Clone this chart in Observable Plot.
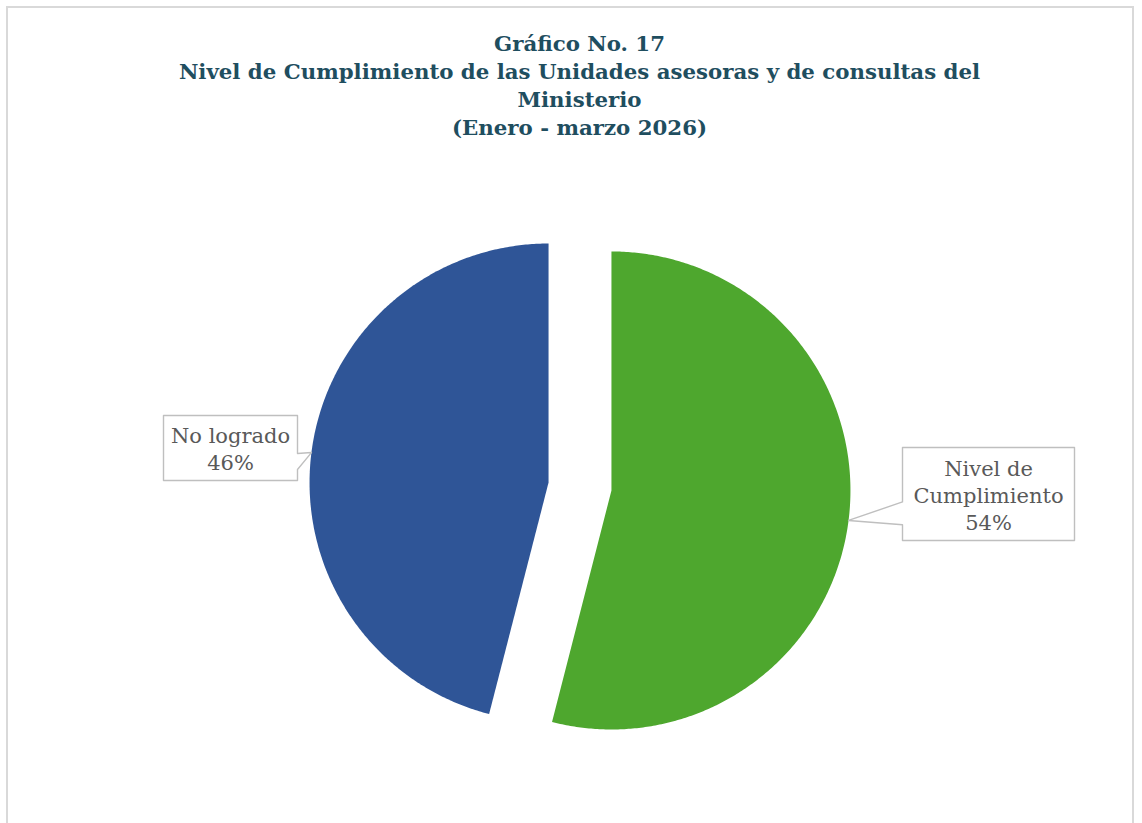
<!DOCTYPE html>
<html>
<head>
<meta charset="utf-8">
<script src="https://cdn.jsdelivr.net/npm/d3@7"></script>
<script src="https://cdn.jsdelivr.net/npm/@observablehq/plot@0.6"></script>
<style>
  html, body { margin: 0; padding: 0; background: #fff; }
  #frame { position: absolute; left: 6px; top: 6px; width: 1128px; height: 900px; border: 2px solid #d9d9d9; box-sizing: border-box; }
  #wrap { position: relative; width: 1142px; }
  #title { height: 150px; box-sizing: border-box; padding-top: 30px; padding-left: 17px; text-align: center;
           font-family: "DejaVu Serif", serif; font-weight: bold; font-size: 21.3px; line-height: 28px; color: #1F4E5F; }
  #chart svg { display: block; }
</style>
</head>
<body>
<div id="frame"></div>
<div id="wrap">
  <div id="title">Gráfico No. 17<br>Nivel de Cumplimiento de las Unidades asesoras y de consultas del<br>Ministerio<br>(Enero - marzo 2026)</div>
  <div id="chart"></div>
</div>
<script>
// ---- data ----
const categories = ["Nivel de Cumplimiento", "No logrado"];
const labelLines = ["Nivel de\nCumplimiento", "No logrado"];
const values = [54, 46];
const colors = ["#4EA72E", "#2F5597"];

// ---- layout constants ----
const W = 1142, H = 673;
const CX = 579.5, CY = 336;   // pie centre in svg pixels
const R = 239, EXPLODE = 31.7;
// callout boxes: centre offset from pie centre, size, side of the notch
const callouts = [
  {cx: 408.5, cy: 7.5, w: 172, h: 93, side: "left"},
  {cx: -349.5, cy: -38.5, w: 134, h: 65, side: "right"}
];

const arcs = d3.pie().sort(null)(values);
const slicePts = [];
const boxPts = [];
const labels = [];
arcs.forEach((a, i) => {
  const mid = (a.startAngle + a.endAngle) / 2;
  const ox = EXPLODE * Math.sin(mid), oy = -EXPLODE * Math.cos(mid);
  slicePts.push({i, x: ox, y: oy});
  const n = Math.ceil((a.endAngle - a.startAngle) / (Math.PI / 360));
  for (let k = 0; k <= n; k++) {
    const t = a.startAngle + (a.endAngle - a.startAngle) * k / n;
    slicePts.push({i, x: ox + R * Math.sin(t), y: oy - R * Math.cos(t)});
  }
  slicePts.push({i, x: ox, y: oy});

  // callout
  const c = callouts[i];
  const tip = {x: ox + R * Math.sin(mid), y: oy - R * Math.cos(mid)};
  const x0 = c.cx - c.w / 2, x1 = c.cx + c.w / 2, y0 = c.cy - c.h / 2, y1 = c.cy + c.h / 2;
  const na = y0 + 0.585 * c.h, nb = y0 + 0.83 * c.h;
  let poly;
  if (c.side === "right") {
    poly = [[x0, y0], [x1, y0], [x1, na], [tip.x, tip.y], [x1, nb], [x1, y1], [x0, y1], [x0, y0]];
  } else {
    poly = [[x0, y0], [x1, y0], [x1, y1], [x0, y1], [x0, nb], [tip.x, tip.y], [x0, na], [x0, y0]];
  }
  poly.forEach(([x, y]) => boxPts.push({i, x, y}));
  labels.push({i, x: c.cx, y: c.cy, text: labelLines[i] + "\n" + values[i] + "%"});
});

const chart = Plot.plot({
  width: W, height: H,
  margin: 0,
  x: {domain: [-CX, W - CX], range: [0, W], axis: null},
  y: {domain: [-CY, H - CY], range: [0, H], axis: null},
  style: {fontFamily: "DejaVu Serif, serif", background: "transparent"},
  marks: [
    Plot.line(slicePts, {x: "x", y: "y", z: "i", fill: d => colors[d.i], stroke: "none", curve: "linear"}),
    Plot.line(boxPts, {x: "x", y: "y", z: "i", fill: "white", stroke: "#bfbfbf", strokeWidth: 1.4, curve: "linear"}),
    Plot.text(labels, {x: "x", y: "y", text: "text", fontSize: 21, lineHeight: 1.29, fill: "#595959", textAnchor: "middle"})
  ]
});
document.getElementById("chart").appendChild(chart);
</script>
</body>
</html>
